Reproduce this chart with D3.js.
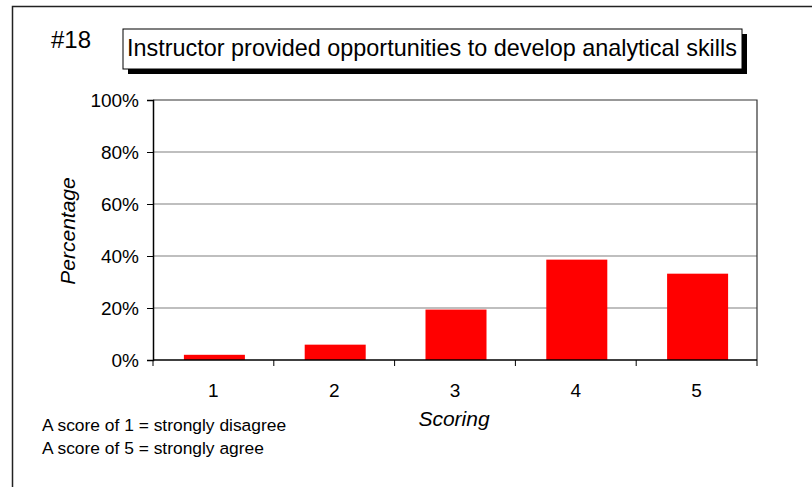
<!DOCTYPE html>
<html>
<head>
<meta charset="utf-8">
<script src="https://cdn.jsdelivr.net/npm/d3@7"></script>
<style>
  body { margin: 0; background: #fff; }
  text { font-family: Arial, "Liberation Sans", sans-serif; fill: #000; }
</style>
</head>
<body>
<div id="chart"></div>
<script>
// chart data
var scores = ["1", "2", "3", "4", "5"];
var percents = [2.0, 5.9, 19.4, 38.6, 33.2];
var yTicks = [0, 20, 40, 60, 80, 100];
var footnotes = ["A score of 1 = strongly disagree", "A score of 5 = strongly agree"];

function init() {
    var w = 812, h = 487;
    var plot = { left: 153, top: 100, right: 757, bottom: 360 };

    var svg = d3.select("#chart").append("svg")
        .attr("width", w).attr("height", h);

    // outer frame (only left and top show)
    svg.append("path")
        .attr("d", "M12.5," + h + "V6.5H" + w)
        .attr("fill", "none").attr("stroke", "#222").attr("stroke-width", 1.5);

    var x = d3.scaleBand().domain(scores).range([plot.left, plot.right]).paddingInner(0).paddingOuter(0);
    var y = d3.scaleLinear().domain([0, 100]).range([plot.bottom, plot.top]);

    // gridlines
    svg.append("g").selectAll("line")
        .data(yTicks.filter(function (d) { return d > 0 && d < 100; }))
        .enter().append("line")
        .attr("x1", plot.left).attr("x2", plot.right)
        .attr("y1", function (d) { return y(d); })
        .attr("y2", function (d) { return y(d); })
        .attr("stroke", "#808080").attr("stroke-width", 1.2);

    // plot border top/right
    svg.append("path")
        .attr("d", "M" + plot.left + "," + plot.top + "H" + plot.right + "V" + plot.bottom)
        .attr("fill", "none").attr("stroke", "#333").attr("stroke-width", 1.2);

    // bars
    var bw = x.bandwidth() * 0.505;
    svg.append("g").selectAll("rect")
        .data(percents)
        .enter().append("rect")
        .attr("x", function (d, i) { return x(scores[i]) + x.bandwidth() / 2 - bw / 2 + 1; })
        .attr("y", function (d) { return y(d); })
        .attr("width", bw)
        .attr("height", function (d) { return plot.bottom - y(d); })
        .attr("fill", "#ff0000");

    // y axis
    var yAxis = d3.axisLeft(y).tickValues(yTicks)
        .tickFormat(function (d) { return d + "%"; })
        .tickSize(6).tickPadding(8);
    var gy = svg.append("g").attr("transform", "translate(" + plot.left + ",0)").call(yAxis);
    gy.select(".domain").attr("stroke", "#000").attr("stroke-width", 1.5);
    gy.selectAll("line").attr("stroke", "#000");
    gy.selectAll("text").style("font-size", "19px").attr("dy", "0.36em");

    // x axis with ticks between categories
    var gx = svg.append("g").attr("transform", "translate(0," + plot.bottom + ")");
    gx.append("line").attr("x1", plot.left).attr("x2", plot.right)
        .attr("stroke", "#000").attr("stroke-width", 1.5);
    var bounds = scores.map(function (s) { return x(s); }).concat([plot.right]);
    gx.selectAll(".tk").data(bounds).enter().append("line")
        .attr("class", "tk")
        .attr("x1", function (d) { return d; }).attr("x2", function (d) { return d; })
        .attr("y1", 0).attr("y2", 6)
        .attr("stroke", "#000");
    gx.selectAll(".lbl").data(scores).enter().append("text")
        .attr("class", "lbl")
        .attr("x", function (d) { return x(d) + x.bandwidth() / 2; })
        .attr("y", 37)
        .attr("text-anchor", "middle")
        .style("font-size", "19px")
        .text(function (d) { return d; });

    // axis titles
    svg.append("text")
        .attr("transform", "translate(75,231) rotate(-90)")
        .attr("text-anchor", "middle")
        .style("font-size", "21px").style("font-style", "italic")
        .text("Percentage");
    svg.append("text")
        .attr("x", 454).attr("y", 426)
        .attr("text-anchor", "middle")
        .style("font-size", "21px").style("font-style", "italic")
        .text("Scoring");

    // title box with shadow
    svg.append("rect").attr("x", 128).attr("y", 34).attr("width", 619).attr("height", 40).attr("fill", "#000");
    svg.append("rect").attr("x", 123).attr("y", 29).attr("width", 619).attr("height", 40)
        .attr("fill", "#fff").attr("stroke", "#000").attr("stroke-width", 1);
    svg.append("text").attr("x", 432).attr("y", 56).attr("text-anchor", "middle")
        .style("font-size", "23.4px")
        .text("Instructor provided opportunities to develop analytical skills");

    svg.append("text").attr("x", 51).attr("y", 48)
        .style("font-size", "24px")
        .text("#18");

    // footnotes
    svg.selectAll(".fn").data(footnotes).enter().append("text")
        .attr("class", "fn")
        .attr("x", 42)
        .attr("y", function (d, i) { return 431 + i * 23; })
        .style("font-size", "17.4px")
        .text(function (d) { return d; });
}

window.onload = init;
</script>
</body>
</html>
